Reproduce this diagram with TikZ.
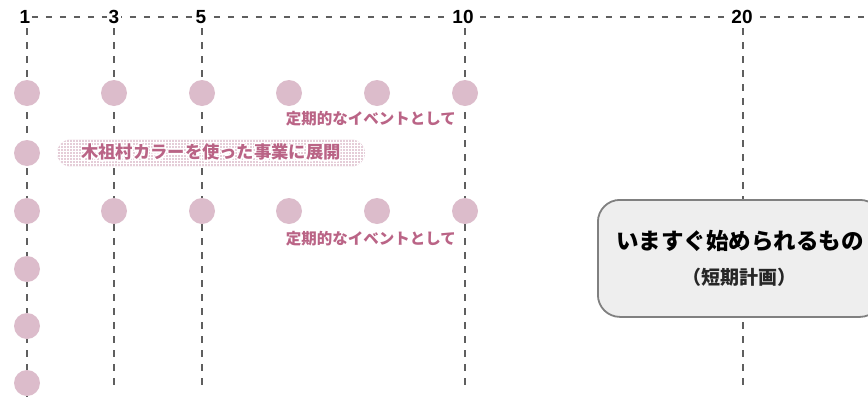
\documentclass[tikz,border=0pt]{standalone}
\usepackage{fontspec}
\usepackage{contour}
\setmainfont{Noto Sans CJK JP}
\newfontfamily\digitfont{Liberation Sans}
\usetikzlibrary{patterns,positioning}

\definecolor{dotpink}{RGB}{220,188,203}
\definecolor{textpink}{RGB}{186,100,134}
\definecolor{boxgray}{RGB}{238,238,238}
\definecolor{rimgray}{RGB}{128,128,128}
\definecolor{linegray}{RGB}{95,95,95}
\contourlength{1.2pt}
\contournumber{12}

\tikzset{
  guide/.style={linegray, line width=1.2pt, dash pattern=on 6.5pt off 7.5pt},
  dot/.style={circle, fill=dotpink, minimum size=26pt, inner sep=0pt},
  yearlabel/.style={fill=white, inner sep=1.5pt, font=\fontsize{19}{19}\selectfont\digitfont\bfseries},
  eventlabel/.style={text=textpink, anchor=east, inner sep=0pt, font=\fontsize{15.5}{16}\selectfont\bfseries},
  pill/.style={rounded corners=13.5pt, fill=dotpink!75, minimum width=308pt, minimum height=27pt,
    inner sep=0pt, postaction={pattern=grid, pattern color=white}},
  planbox/.style={draw=rimgray, line width=1.8pt, fill=boxgray, rounded corners=22pt,
    minimum width=284pt, minimum height=117pt, anchor=north west, align=center, inner sep=0pt},
}

\begin{document}
\begin{tikzpicture}[x=1pt,y=-1pt]
\useasboundingbox (0,0) rectangle (868,397);
\clip (0,0) rectangle (868,397);

\coordinate (edge) at (868,17) ;
\coordinate (b1) at (27,397) ;
\coordinate (b3) at (114,392) ;
\coordinate (b5) at (202,392) ;
\coordinate (b10) at (465,392) ;
\coordinate (b20) at (743,392) ;

\node[yearlabel] (y1) at (25,17) {1} ;
\draw[guide] (y1.east) -- (edge) ;
\draw[guide] (27,28) -- (b1) ;
\draw[guide] (114,28) -- (b3) ;
\draw[guide] (202,28) -- (b5) ;
\draw[guide] (465,28) -- (b10) ;
\draw[guide] (743,28) -- (b20) ;
\node[yearlabel] (y3) at (114,17) {3} ;
\node[yearlabel] (y5) at (201,17) {5} ;
\node[yearlabel] (y10) at (463,17) {10} ;
\node[yearlabel] (y20) at (742,17) {20} ;

\node[dot] (a1) at (27,93) {} ;
\node[dot] (a3) at (114,93) {} ;
\node[dot] (a5) at (202,93) {} ;
\node[dot] (a7) at (289,93) {} ;
\node[dot] (a9) at (377,93) {} ;
\node[dot] (a10) at (465,93) {} ;
\node[eventlabel] (ev1) at (456,119) {定期的なイベントとして} ;

\node[dot] (c1) at (27,153) {} ;
\node[pill] (color) at (211,153) {\fontsize{17.3}{18}\selectfont\bfseries\contour{white}{\textcolor{textpink}{木祖村カラーを使った事業に展開}}} ;

\node[dot] (e1) at (27,211) {} ;
\node[dot] (e3) at (114,211) {} ;
\node[dot] (e5) at (202,211) {} ;
\node[dot] (e7) at (289,211) {} ;
\node[dot] (e9) at (377,211) {} ;
\node[dot] (e10) at (465,211) {} ;
\node[eventlabel] (ev2) at (456,239) {定期的なイベントとして} ;

\node[dot] (f1) at (27,269) {} ;
\node[dot] (g1) at (27,326) {} ;
\node[dot] (h1) at (27,383) {} ;

\node[planbox] (now) at (597,199) {{\fontsize{22.5}{24}\selectfont\bfseries いますぐ始められるもの}\\[15pt]
  {\fontsize{19}{20}\selectfont\bfseries\color{black!85}（短期計画）}} ;
\end{tikzpicture}
\end{document}
